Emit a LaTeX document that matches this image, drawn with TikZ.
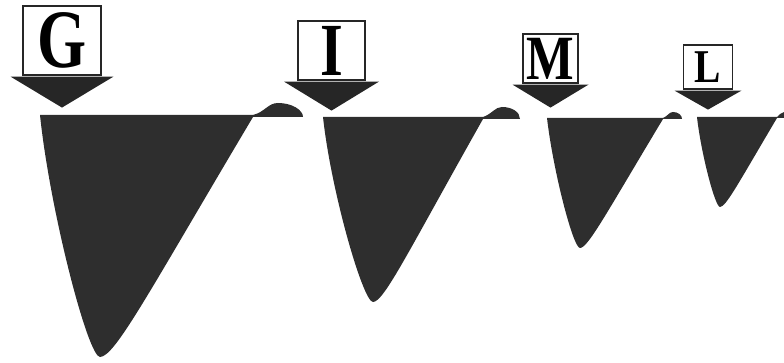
\documentclass[tikz,border=0pt]{standalone}
\usepackage{fontspec}
\setmainfont{Liberation Serif}
\usepackage{tikz}

\begin{document}
\begin{tikzpicture}[
  x=1pt, y=-1pt,
  tag/.style={rectangle, draw=black!85, fill=white, line width=1.2pt,
              inner sep=0pt},
  pointer/.style={fill=black!85},
  dip/.style={fill=black!82},
]
  \useasboundingbox (0,0) rectangle (784,363);
  \clip (0,0) rectangle (784,363);

  % Labels
  \node[tag, minimum width=78pt, minimum height=69pt,
        font=\bfseries\fontsize{83}{83}\selectfont] (tagG) at (62,40.5) {\scalebox{0.76}[1]{G}};
  \node[tag, minimum width=67pt, minimum height=59pt,
        font=\bfseries\fontsize{75}{75}\selectfont] (tagI) at (331.5,50.5) {\scalebox{0.78}[1]{I}};
  \node[tag, minimum width=55pt, minimum height=49pt,
        font=\bfseries\fontsize{63}{63}\selectfont] (tagM) at (550.5,58.5) {\scalebox{0.8}[1]{M}};
  \node[tag, minimum width=49pt, minimum height=44pt,
        font=\bfseries\fontsize{47}{47}\selectfont] (tagL) at (708,67) {\scalebox{0.84}[1]{L}};

  % Pointers
  \fill[pointer] (tagG.south) ++(-51.5,1) -- ++(103,0) -- ++(-51.5,31) -- cycle;
  \fill[pointer] (tagI.south) ++(-47.5,1) -- ++(95,0) -- ++(-47.5,29) -- cycle;
  \fill[pointer] (tagM.south) ++(-38,1) -- ++(76,0) -- ++(-38,23) -- cycle;
  \fill[pointer] (tagL.south) ++(-33.5,1) -- ++(67,0) -- ++(-33.5,19) -- cycle;

  % Dips
  \fill[dip] (40,115) -- (253,115)
    .. controls (265,112) and (268,103) .. (278,103)
    .. controls (292,103) and (303,110) .. (303,117) -- (253,117)
    .. controls (150,290) and (115,357) .. (100,357)
    .. controls (88,357) and (50,211) .. (40,115) -- cycle;
  \fill[dip] (323,117) -- (483,117)
    .. controls (492,114) and (495,107) .. (502,107)
    .. controls (512,107) and (520,112) .. (520,119) -- (483,119)
    .. controls (409,250) and (384,302) .. (373,302)
    .. controls (363,302) and (331,191) .. (323,117) -- cycle;
  \fill[dip] (547,118) -- (663,118)
    .. controls (668,116) and (669,112) .. (673,112)
    .. controls (678,112) and (682,115) .. (682,119) -- (663,119)
    .. controls (607,212) and (588,248) .. (580,248)
    .. controls (573,248) and (553,170) .. (547,118) -- cycle;
  \fill[dip] (697,117) -- (777,117)
    .. controls (780,115) and (781,112) .. (784,112)
    .. controls (788,112) and (795,114) .. (795,118) -- (777,118)
    .. controls (739,182) and (726,207) .. (720,207)
    .. controls (715,207) and (701,153) .. (697,117) -- cycle;
\end{tikzpicture}
\end{document}
